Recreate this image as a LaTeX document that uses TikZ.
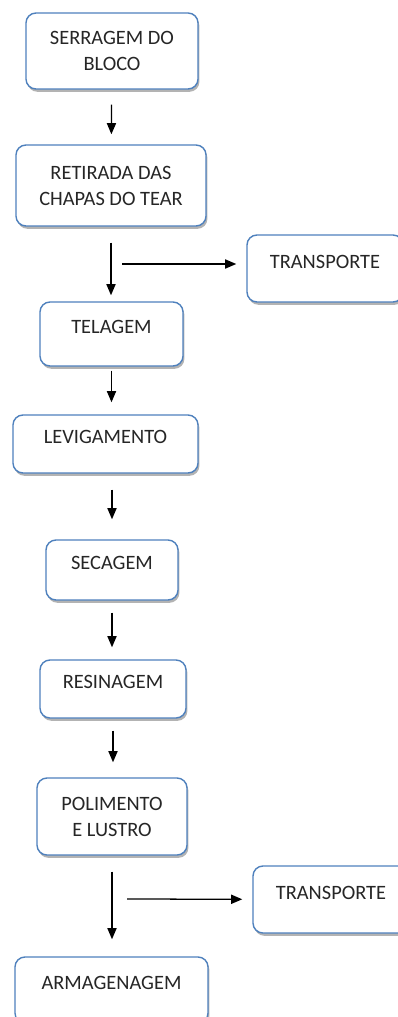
\documentclass[tikz,border=0pt]{standalone}
\usepackage{fontspec}
\setmainfont{Carlito}
\usetikzlibrary{arrows.meta, positioning, shadows}
\definecolor{boxblue}{RGB}{79,129,189}
\tikzset{
    stage/.style={rectangle, rounded corners=0.25cm, draw=boxblue, fill=white, line width=1pt, align=center, text=black!85, font=\fontsize{14.5}{18.5}\selectfont, drop shadow={shadow xshift=1pt, shadow yshift=-2pt, fill=black!50, opacity=0.6}},
    oneline/.style={text depth=10pt},
    arrow/.style={-{Triangle[length=2.8mm, width=2.3mm]}, line width=0.9pt, black},
}
\begin{document}
\begin{tikzpicture}[x=0.025cm, y=-0.025cm]
    \useasboundingbox (0,0) rectangle (398,1017);
    % Nodes
    \node[stage, minimum width=4.3cm, minimum height=1.9cm] (serragem) at (112,51) {SERRAGEM DO\\BLOCO};
    \node[stage, minimum width=4.75cm, minimum height=2.025cm] (retirada) at (111,185.5) {RETIRADA DAS\\CHAPAS DO TEAR};
    \node[stage, oneline, minimum width=3.9cm, minimum height=1.675cm] (transp1) at (325,268.5) {TRANSPORTE};
    \node[stage, oneline, minimum width=3.575cm, minimum height=1.6cm] (telagem) at (111.5,334) {TELAGEM};
    \node[stage, oneline, minimum width=4.625cm, minimum height=1.45cm] (levig) at (105.5,444) {LEVIGAMENTO};
    \node[stage, oneline, minimum width=3.3cm, minimum height=1.5cm] (secagem) at (112,570) {SECAGEM};
    \node[stage, oneline, minimum width=3.65cm, minimum height=1.45cm] (resinagem) at (113,689) {RESINAGEM};
    \node[stage, minimum width=3.75cm, minimum height=1.925cm] (polimento) at (112,816.5) {POLIMENTO\\E LUSTRO};
    \node[stage, oneline, minimum width=3.9cm, minimum height=1.675cm] (transp2) at (331,899.5) {TRANSPORTE};
    \node[stage, oneline, minimum width=4.825cm, minimum height=1.65cm] (armag) at (111.5,990) {ARMAGENAGEM};

    \coordinate (fork1) at (122,264);
    \coordinate (fork2) at (127,899);

    % Connections
    \draw[arrow, shorten <=0.375cm, shorten >=0.25cm] (serragem) -- (retirada);
    \draw[arrow, shorten <=0.4cm, shorten >=0.15cm] (retirada.south -| 111,0) -- (telagem.north -| 111,0);
    \draw[arrow, shorten >=0.25cm] (fork1) -- (fork1 -| transp1.west);
    \draw[arrow, shorten <=0.1cm, shorten >=0.3cm] (telagem) -- (levig.north -| telagem);
    \draw[arrow, shorten <=0.4cm, shorten >=0.5cm] (levig.south -| secagem) -- (secagem);
    \draw[arrow, shorten <=0.3cm, shorten >=0.3cm] (secagem.south -| 112,0) -- (resinagem.north -| 112,0);
    \draw[arrow, shorten <=0.3cm, shorten >=0.375cm] (resinagem.south -| 113,0) -- (polimento.north -| 113,0);
    \draw[arrow, shorten <=0.4cm, shorten >=0.425cm] (polimento) -- (armag.north -| polimento);
    \draw[arrow, shorten >=0.25cm] (fork2) -- (transp2);
\end{tikzpicture}
\end{document}
